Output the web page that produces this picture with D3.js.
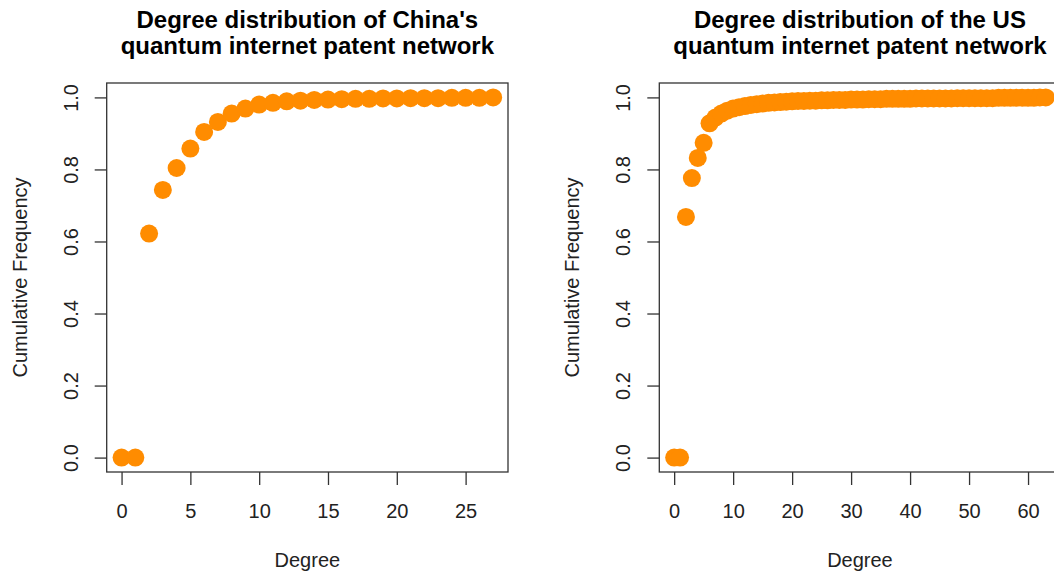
<!DOCTYPE html>
<html>
<head>
  <title>Degree distribution</title>
  <script src="https://d3js.org/d3.v7.min.js"></script>
  <style>
    body { margin: 0; background: #fff; }
    svg { font-family: "Liberation Sans", Arial, Helvetica, sans-serif; }
  </style>
</head>
<body>
<svg width="1054" height="574"></svg>
<script>
  // cumulative frequency by degree
  const chinaDegrees = d3.range(0, 28);
  const chinaCumFreq = [0, 0, 0.622, 0.743, 0.804, 0.858, 0.904, 0.932, 0.955, 0.969,
    0.980, 0.985, 0.989, 0.991, 0.993, 0.994, 0.995, 0.996, 0.996, 0.997,
    0.997, 0.998, 0.998, 0.998, 0.999, 0.999, 0.999, 1.0];

  const usDegrees = d3.range(0, 64);
  const usCumFreq = [0, 0, 0.668, 0.776, 0.832, 0.874, 0.928, 0.944, 0.955, 0.963,
    0.969, 0.973, 0.976, 0.979, 0.981, 0.983, 0.985, 0.986, 0.987, 0.988,
    0.989, 0.990, 0.990, 0.991, 0.991, 0.992, 0.992, 0.993, 0.993, 0.993,
    0.994, 0.994, 0.994, 0.995, 0.995, 0.995, 0.996, 0.996, 0.996, 0.996,
    0.996, 0.997, 0.997, 0.997, 0.997, 0.997, 0.997, 0.997, 0.998, 0.998,
    0.998, 0.998, 0.998, 0.998, 0.998, 0.999, 0.999, 0.999, 0.999, 0.999,
    0.999, 0.999, 1.0, 1.0];

  const chinaTicks = [0, 5, 10, 15, 20, 25];
  const usTicks = [0, 10, 20, 30, 40, 50, 60];
  const yTicks = [0, 0.2, 0.4, 0.6, 0.8, 1.0];

  const panels = [
    { title: ["Degree distribution of China's", "quantum internet patent network"],
      degrees: chinaDegrees, values: chinaCumFreq, ticks: chinaTicks, left: 106.7 },
    { title: ["Degree distribution of the US", "quantum internet patent network"],
      degrees: usDegrees, values: usCumFreq, ticks: usTicks, left: 659.3 }
  ];

  const svg = d3.select("svg");
  const plotW = 401.3, plotTop = 83, plotBottom = 472;
  const color = "#ff8c00";

  panels.forEach(p => {
    const right = p.left + plotW;
    const ext = d3.extent(p.degrees);
    const pad = (ext[1] - ext[0]) * 0.04;
    const x = d3.scaleLinear().domain([ext[0] - pad, ext[1] + pad]).range([p.left, right]);
    const y = d3.scaleLinear().domain([-0.04, 1.04]).range([plotBottom, plotTop]);

    const g = svg.append("g");

    // points
    g.append("g")
      .selectAll("circle")
      .data(p.degrees.map((d, i) => [d, p.values[i]]))
      .enter().append("circle")
      .attr("cx", d => x(d[0]))
      .attr("cy", d => y(d[1]))
      .attr("r", 9)
      .attr("fill", color);

    // box
    g.append("rect")
      .attr("x", p.left).attr("y", plotTop)
      .attr("width", plotW).attr("height", plotBottom - plotTop)
      .attr("fill", "none").attr("stroke", "#333").attr("stroke-width", 1.3);

    // x axis
    const xa = g.append("g")
      .attr("transform", `translate(0,${plotBottom})`)
      .call(d3.axisBottom(x).tickValues(p.ticks).tickSize(13).tickFormat(d3.format("d")));
    xa.select(".domain").remove();
    xa.selectAll("line").attr("stroke", "#333").attr("stroke-width", 1.3);
    xa.selectAll("text")
      .attr("y", 46).attr("dy", 0)
      .attr("font-size", 20).attr("fill", "#222");

    // y axis
    const ya = g.append("g")
      .attr("transform", `translate(${p.left},0)`)
      .call(d3.axisLeft(y).tickValues(yTicks).tickSize(12).tickFormat(d3.format(".1f")));
    ya.select(".domain").remove();
    ya.selectAll("line").attr("stroke", "#333").attr("stroke-width", 1.3);
    ya.selectAll("text")
      .attr("x", 0).attr("y", -29).attr("dy", 0)
      .attr("transform", "rotate(-90)")
      .attr("text-anchor", "middle")
      .attr("font-size", 20).attr("fill", "#222");

    // axis titles
    g.append("text")
      .attr("x", (p.left + right) / 2).attr("y", 567)
      .attr("text-anchor", "middle").attr("font-size", 20).attr("fill", "#222")
      .text("Degree");
    g.append("text")
      .attr("transform", `translate(${p.left - 80},${(plotTop + plotBottom) / 2}) rotate(-90)`)
      .attr("text-anchor", "middle").attr("font-size", 20).attr("fill", "#222")
      .text("Cumulative Frequency");

    // title
    g.append("text")
      .attr("x", (p.left + right) / 2).attr("y", 28)
      .attr("text-anchor", "middle").attr("font-size", 24).attr("font-weight", "bold")
      .selectAll("tspan")
      .data(p.title)
      .enter().append("tspan")
      .attr("x", (p.left + right) / 2)
      .attr("dy", (d, i) => i === 0 ? 0 : 26)
      .text(d => d);
  });
</script>
</body>
</html>
